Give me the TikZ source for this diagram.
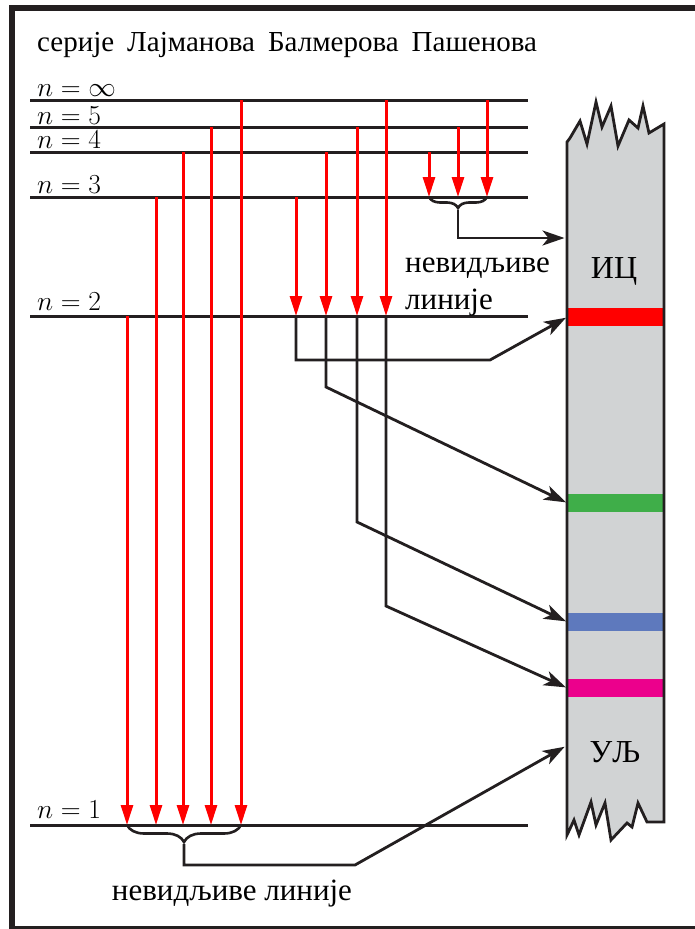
\RequirePackage{fix-cm}
\documentclass[tikz,border=0pt]{standalone}
\usepackage{fontspec}
\setmainfont{Liberation Serif}
\usepackage{tikz}
\usetikzlibrary{arrows.meta,positioning,calc,decorations.pathreplacing}
\definecolor{ink}{HTML}{231F20}
\definecolor{stripGray}{HTML}{D1D3D4}
\definecolor{bandRed}{HTML}{FF0000}
\definecolor{bandGreen}{HTML}{3FAE49}
\definecolor{bandBlue}{HTML}{5E79BD}
\definecolor{bandMagenta}{HTML}{EC008C}

\tikzset{
  level/.style={draw=ink,line width=3pt},
  emission/.style={draw=red,line width=3pt,-{Triangle[length=20pt,width=12pt]}},
  link/.style={draw=ink,line width=2.8pt,-{Stealth[length=22pt,width=15pt,inset=6pt]},shorten >=1.5pt},
  band/.style={fill=#1,minimum width=96pt,minimum height=18pt,inner sep=0pt},
  lvllabel/.style={anchor=base west,inner sep=0pt,font=\fontsize{27.5}{32}\selectfont},
  txt/.style={inner sep=0pt,font=\fontsize{#1}{#1}\selectfont},
  bracket/.style={draw=ink,line width=2.6pt,decorate,decoration={brace,mirror,amplitude=#1}},
}

\begin{document}
\begin{tikzpicture}[x=1pt,y=-1pt]
  \useasboundingbox (0,0) rectangle (694,929);
  % frame
  \draw[ink,line width=5.5pt] (12,8) rectangle (720,929);

  % series title
  \node[txt=29,anchor=base west] (series) at (37,51)
    {серије\hspace{13pt}Лајманова\hspace{13pt}Балмерова\hspace{13pt}Пашенова};

  % energy levels
  \foreach \name/\y in {inf/100,5/127,4/152,3/197,2/316,1/825} {
    \coordinate (w\name) at (30,\y);
    \coordinate (e\name) at (528,\y);
    \draw[level] (w\name) -- (e\name);
  }
  \node[lvllabel] (nInf) at ([shift={(7,-4)}]winf) {$n=\infty$};
  \node[lvllabel] (n5)   at ([shift={(7,-2.5)}]w5) {$n=5$};
  \node[lvllabel] (n4)   at ([shift={(7,-4)}]w4)   {$n=4$};
  \node[lvllabel] (n3)   at ([shift={(7,-4)}]w3)   {$n=3$};
  \node[lvllabel] (n2)   at ([shift={(7,-6)}]w2)   {$n=2$};
  \node[lvllabel] (n1)   at ([shift={(7,-7)}]w1)   {$n=1$};

  % spectral strip
  \fill[stripGray] (567,142) -- (570,138) -- (580,121) -- (587,144) -- (596,102)
    -- (602,127) -- (611,106) -- (618,146) -- (629,120) -- (638,128) -- (643,106)
    -- (649,133) -- (664,124) -- (664,822) -- (647,822) -- (638,803) -- (632,827)
    -- (627,823) -- (611,840) -- (605,803) -- (596,825) -- (591,802) -- (579,835)
    -- (574,820) -- (568,833) -- (567,835) -- cycle;
  \node[band=bandRed]     (redband)   at (615.5,317) {};
  \node[band=bandGreen]   (greenband) at (615.5,503) {};
  \node[band=bandBlue]    (blueband)  at (615.5,622) {};
  \node[band=bandMagenta] (magband)   at (615.5,688) {};
  \draw[ink,line width=2.8pt] (567,142) -- (570,138) -- (580,121) -- (587,144) -- (596,102)
    -- (602,127) -- (611,106) -- (618,146) -- (629,120) -- (638,128) -- (643,106)
    -- (649,133) -- (664,124) -- (664,822) -- (647,822) -- (638,803) -- (632,827)
    -- (627,823) -- (611,840) -- (605,803) -- (596,825) -- (591,802) -- (579,835)
    -- (574,820) -- (568,833) -- (567,835) -- cycle;
  \coordinate (irin) at (566,238);
  \coordinate (uvin) at (566,746);
  \node[txt=32,anchor=base] (ir) at (614,278) {ИЦ};
  \node[txt=32,anchor=base] (uv) at (615,762) {УЉ};

  % Lyman series
  \foreach \x/\from/\nm in {127/2/ly1,156/3/ly2,183/4/ly3,211/5/ly4,241/inf/ly5}
    \draw[emission] (\x,0 |- w\from) -- (\x,0 |- w1) coordinate (\nm);
  % Balmer series
  \foreach \x/\from/\nm in {296/3/b1,326/4/b2,357/5/b3,386/inf/b4}
    \draw[emission] (\x,0 |- w\from) -- (\x,0 |- w2) coordinate (\nm);
  % Paschen series
  \foreach \x/\from/\nm in {429/4/pa1,458/5/pa2,487/inf/pa3}
    \draw[emission] (\x,0 |- w\from) -- (\x,0 |- w3) coordinate (\nm);

  % Paschen: invisible
  \draw[bracket=11pt] (pa1) -- (pa3);
  \coordinate (ptip) at ($(pa1)!.5!(pa3)+(0,13)$);
  \draw[link] (ptip) |- (irin);
  \node[txt=31,anchor=base west] (irnote1) at (405,272) {невидљиве};
  \node[txt=31,anchor=base west] (irnote2) at (405,309) {линије};

  % Balmer: visible lines
  \draw[link] (b1) -- ++(0,44) -- (490,360) -- (redband.west);
  \draw[link] (b2) -- ++(0,71) -- (greenband.west);
  \draw[link] (b3) -- ++(0,206) -- (blueband.west);
  \draw[link] (b4) -- ++(0,290) -- (magband.west);

  % Lyman: invisible
  \draw[bracket=17pt] (ly1) -- (ly5);
  \coordinate (ltip) at ($(ly1)!.5!(ly5)+(0,19)$);
  \draw[link] (ltip) -- ++(0,21) -- (355,865) -- (uvin);
  \node[txt=31,anchor=base] (uvnote) at (232,900) {невидљиве линије};
\end{tikzpicture}
\end{document}
